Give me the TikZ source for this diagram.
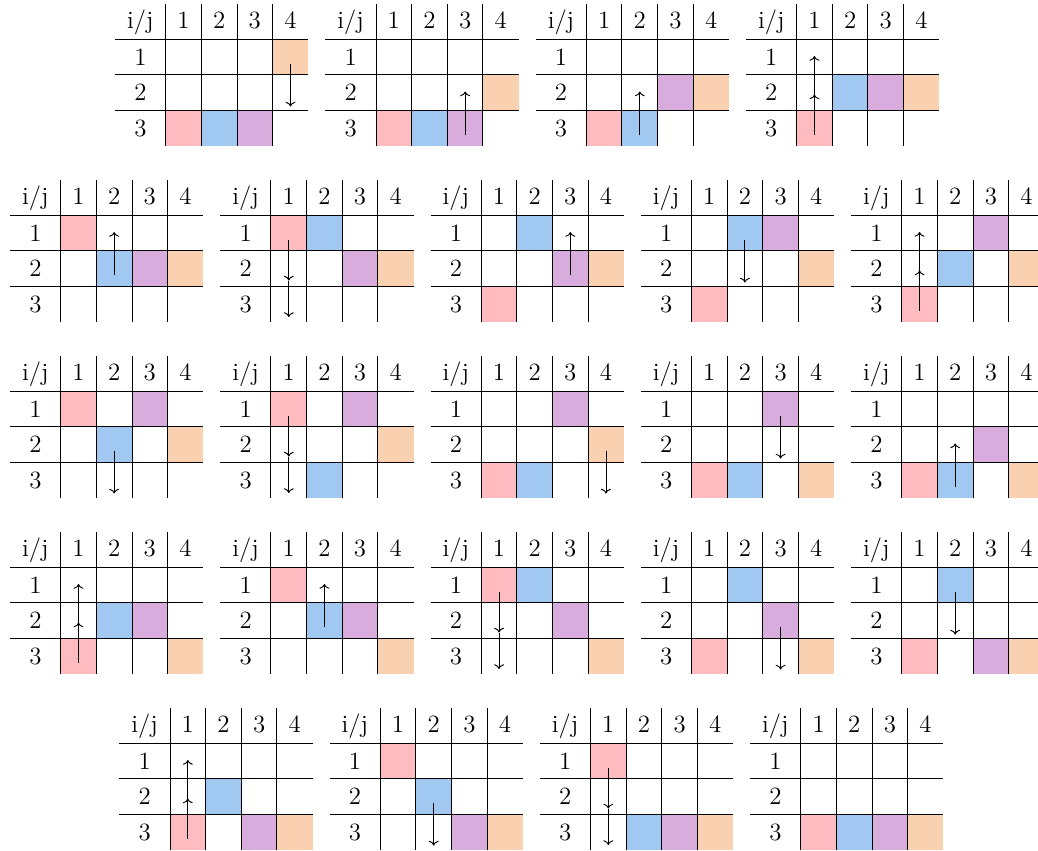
\documentclass[tikz,border=0pt]{standalone}
\usetikzlibrary{arrows.meta}
\definecolor{cpink}{RGB}{255,188,192}
\definecolor{cblue}{RGB}{161,200,240}
\definecolor{cpurple}{RGB}{216,173,221}
\definecolor{corange}{RGB}{249,208,176}
\tikzset{
  tblrule/.style={line width=0.45pt, black},
  lbl/.style={inner sep=0pt, anchor=base, font=\fontsize{12}{14}\selectfont},
  movearrow/.style={-{To[length=2.3pt,width=4.8pt]}, line width=0.45pt, black},
}
\newcommand{\mytable}[4]{%
\begin{scope}[shift={(#2,#3)}]
  \foreach \r/\c/\col in {#4} {\fill[\col] ({50.7+(\c-1)*35.65},{(\r-1)*35.5}) rectangle ({50.7+\c*35.65},{\r*35.5});}
  \foreach \y in {0,35.5,71} {\draw[tblrule] (0,\y) -- (193.3,\y);}
  \foreach \c in {0,...,3} {\draw[tblrule] ({50.7+\c*35.65},-35) -- ({50.7+\c*35.65},106.5);}
  \node[lbl] (t#1-ij) at (25.35,-10.6) {i/j};
  \foreach \c in {1,...,4} {\node[lbl] (t#1-c\c) at ({50.7+(\c-0.5)*35.65},-10.6) {\c};}
  \foreach \r in {1,2,3} {\node[lbl] (t#1-r\r) at (25.35,{\r*35.5-9.5}) {\r};}
\end{scope}}
\newcommand{\myarrows}[4]{%
\begin{scope}[shift={(#2,#3)}]
  \foreach \c/\ya/\yb [count=\k] in {#4} {
    \coordinate (t#1-a\k-s) at ({50.7+(\c-0.5)*35.65},\ya);
    \coordinate (t#1-a\k-e) at ({50.7+(\c-0.5)*35.65},\yb);
    \draw[movearrow] (t#1-a\k-s) -- (t#1-a\k-e);
  }
\end{scope}}
\begin{document}
\begin{tikzpicture}[x=0.483pt,y=-0.483pt]
\useasboundingbox (0,0) rectangle (1038,850);
% row 1
\mytable{1}{115}{39}{3/1/cpink,3/2/cblue,3/3/cpurple,1/4/corange}
\myarrows{1}{115}{39}{4/24.5/67.5}
\mytable{2}{325.3}{39}{3/1/cpink,3/2/cblue,3/3/cpurple,2/4/corange}
\myarrows{2}{325.3}{39}{3/95.5/52.5}
\mytable{3}{535.6}{39}{3/1/cpink,3/2/cblue,2/3/cpurple,2/4/corange}
\myarrows{3}{535.6}{39}{2/95.5/52.5}
\mytable{4}{745.9}{39}{3/1/cpink,2/2/cblue,2/3/cpurple,2/4/corange}
\myarrows{4}{745.9}{39}{1/95.5/55.5,1/55.5/17}
% row 2
\mytable{5}{10}{215}{1/1/cpink,2/2/cblue,2/3/cpurple,2/4/corange}
\myarrows{5}{10}{215}{2/59.5/17}
\mytable{6}{220.25}{215}{1/1/cpink,1/2/cblue,2/3/cpurple,2/4/corange}
\myarrows{6}{220.25}{215}{1/24.5/65.5,1/65.5/102}
\mytable{7}{430.5}{215}{3/1/cpink,1/2/cblue,2/3/cpurple,2/4/corange}
\myarrows{7}{430.5}{215}{3/59.5/17}
\mytable{8}{640.75}{215}{3/1/cpink,1/2/cblue,1/3/cpurple,2/4/corange}
\myarrows{8}{640.75}{215}{2/24.5/67.5}
\mytable{9}{851}{215}{3/1/cpink,2/2/cblue,1/3/cpurple,2/4/corange}
\myarrows{9}{851}{215}{1/95.5/55.5,1/55.5/17}
% row 3
\mytable{10}{10}{391}{1/1/cpink,2/2/cblue,1/3/cpurple,2/4/corange}
\myarrows{10}{10}{391}{2/59.5/102.5}
\mytable{11}{220.25}{391}{1/1/cpink,3/2/cblue,1/3/cpurple,2/4/corange}
\myarrows{11}{220.25}{391}{1/24.5/65.5,1/65.5/102}
\mytable{12}{430.5}{391}{3/1/cpink,3/2/cblue,1/3/cpurple,2/4/corange}
\myarrows{12}{430.5}{391}{4/59.5/102.5}
\mytable{13}{640.75}{391}{3/1/cpink,3/2/cblue,1/3/cpurple,3/4/corange}
\myarrows{13}{640.75}{391}{3/24.5/67.5}
\mytable{14}{851}{391}{3/1/cpink,3/2/cblue,2/3/cpurple,3/4/corange}
\myarrows{14}{851}{391}{2/95.5/52.5}
% row 4
\mytable{15}{10}{567}{3/1/cpink,2/2/cblue,2/3/cpurple,3/4/corange}
\myarrows{15}{10}{567}{1/95.5/55.5,1/55.5/17}
\mytable{16}{220.25}{567}{1/1/cpink,2/2/cblue,2/3/cpurple,3/4/corange}
\myarrows{16}{220.25}{567}{2/59.5/17}
\mytable{17}{430.5}{567}{1/1/cpink,1/2/cblue,2/3/cpurple,3/4/corange}
\myarrows{17}{430.5}{567}{1/24.5/65.5,1/65.5/102}
\mytable{18}{640.75}{567}{3/1/cpink,1/2/cblue,2/3/cpurple,3/4/corange}
\myarrows{18}{640.75}{567}{3/59.5/102.5}
\mytable{19}{851}{567}{3/1/cpink,1/2/cblue,3/3/cpurple,3/4/corange}
\myarrows{19}{851}{567}{2/24.5/67.5}
% row 5
\mytable{20}{119.3}{743}{3/1/cpink,2/2/cblue,3/3/cpurple,3/4/corange}
\myarrows{20}{119.3}{743}{1/95.5/55.5,1/55.5/17}
\mytable{21}{329.55}{743}{1/1/cpink,2/2/cblue,3/3/cpurple,3/4/corange}
\myarrows{21}{329.55}{743}{2/59.5/102.5}
\mytable{22}{539.8}{743}{1/1/cpink,3/2/cblue,3/3/cpurple,3/4/corange}
\myarrows{22}{539.8}{743}{1/24.5/65.5,1/65.5/102}
\mytable{23}{750.05}{743}{3/1/cpink,3/2/cblue,3/3/cpurple,3/4/corange}
\end{tikzpicture}
\end{document}
